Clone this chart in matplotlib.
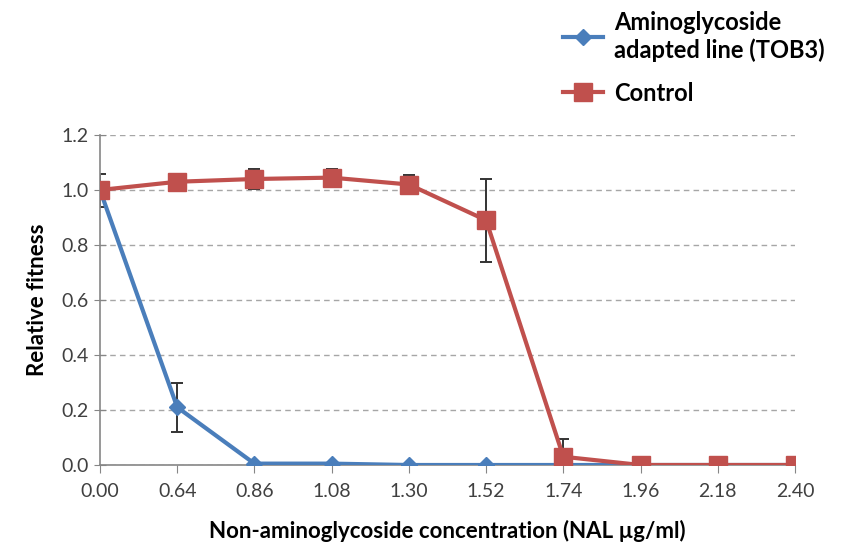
import matplotlib.pyplot as plt
import numpy as np

plt.rcParams['font.family'] = ['Lato', 'DejaVu Sans']

conc = ["0.00", "0.64", "0.86", "1.08", "1.30", "1.52", "1.74", "1.96", "2.18", "2.40"]
tob3 = [1.00, 0.21, 0.005, 0.005, 0.0, 0.0, 0.0, 0.0, 0.0, 0.0]
tob3_err = [0.0, 0.09, 0.0, 0.0, 0.0, 0.0, 0.0, 0.0, 0.0, 0.0]
control = [1.00, 1.03, 1.04, 1.045, 1.02, 0.89, 0.03, 0.0, 0.0, 0.0]
control_err = [0.06, 0.03, 0.035, 0.03, 0.035, 0.15, 0.065, 0.0, 0.0, 0.0]

blue = "#4a7ebb"
red = "#c0504d"
axis_grey = "#868686"

fig = plt.figure(figsize=(8.44, 5.53), dpi=100)
ax = fig.add_axes([100/844, 1-465/553, 695/844, 330/553])

x = np.arange(len(conc))

# error bars first, lines on top
ax.errorbar(x, control, yerr=control_err, fmt='none', ecolor='#333333',
            elinewidth=1.4, capsize=4, capthick=1.4, zorder=2)
ax.errorbar(x, tob3, yerr=tob3_err, fmt='none', ecolor='#333333',
            elinewidth=1.4, capsize=4, capthick=1.4, zorder=2)
l1, = ax.plot(x, tob3, color=blue, lw=3, marker='D', ms=8.5, zorder=3,
              label="Aminoglycoside\nadapted line (TOB3)")
l2, = ax.plot(x, control, color=red, lw=3, marker='s', ms=13, zorder=4,
              label="Control")

ax.set_xlim(0, len(conc) - 1)
ax.set_ylim(0, 1.2)
ax.set_xticks(x)
ax.set_xticklabels(conc)
ax.set_yticks(np.arange(0, 1.21, 0.2))
ax.set_yticklabels([f"{v:.1f}" for v in np.arange(0, 1.21, 0.2)])

ax.grid(axis='y', color='#a6a6a6', linestyle=(0, (4, 3)), lw=1.0)
ax.set_axisbelow(True)

for s in ['top', 'right']:
    ax.spines[s].set_visible(False)
for s in ['left', 'bottom']:
    ax.spines[s].set_color(axis_grey)
    ax.spines[s].set_linewidth(1.2)

ax.tick_params(axis='y', direction='inout', length=8, color=axis_grey,
               labelsize=14, labelcolor='#404040', pad=4)
ax.tick_params(axis='x', direction='out', length=6, color=axis_grey,
               labelsize=14, labelcolor='#404040', pad=7)

ax.set_xlabel("Non-aminoglycoside concentration (NAL µg/ml)",
              fontsize=16, fontweight='bold', labelpad=14)
ax.set_ylabel("Relative fitness", fontsize=16, fontweight='bold', labelpad=10)

fig.legend(handles=[l1, l2], loc='upper left', bbox_to_anchor=(546/844, 1.01),
           frameon=False, prop={'weight': 'bold', 'size': 17},
           handlelength=1.7, handletextpad=0.5, labelspacing=0.85,
           borderaxespad=0.3)

fig.savefig("out.png", dpi=100)
